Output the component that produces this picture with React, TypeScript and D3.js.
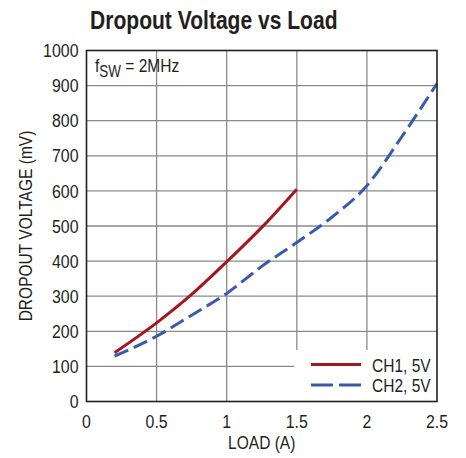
import React from "react";
import * as d3 from "d3";

const title = "Dropout Voltage vs Load";
const xLabel = "LOAD (A)";
const yLabel = "DROPOUT VOLTAGE (mV)";
const xTicks = [0, 0.5, 1, 1.5, 2, 2.5];
const xTickLabels = ["0", "0.5", "1", "1.5", "2", "2.5"];
const yTicks = [0, 100, 200, 300, 400, 500, 600, 700, 800, 900, 1000];

const ch1Load = [0.2, 0.5, 0.75, 1.0, 1.25, 1.5];
const ch1Mv = [139, 224, 305, 398, 496, 605];
const ch2Load = [0.2, 0.5, 0.75, 1.0, 1.25, 1.5, 1.75, 2.0, 2.25, 2.5];
const ch2Mv = [129, 186, 246, 308, 385, 453, 525, 615, 755, 906];

const seriesNames = ["CH1, 5V", "CH2, 5V"];

const FONT = "'Liberation Sans', Arial, sans-serif";
const RED = "#a5161f";
const BLUE = "#3a5aac";
const INK = "#231f20";
const SX = 0.84;

function T(props: {
  x: number;
  y: number;
  anchor?: string;
  size: number;
  sx?: number;
  bold?: boolean;
  rotate?: number;
  children: React.ReactNode;
}) {
  const { x, y, anchor = "start", size, sx = SX, bold, rotate = 0, children } = props;
  return (
    <text
      transform={`translate(${x},${y}) rotate(${rotate}) scale(${sx},1)`}
      textAnchor={anchor}
      fontSize={size}
      fontWeight={bold ? "bold" : "normal"}
      fill={INK}
    >
      {children}
    </text>
  );
}

export default function App() {
  const W = 466, H = 458;
  const left = 86.5, right = 437, top = 50.5, bottom = 401.5;
  const x = d3.scaleLinear().domain([0, 2.5]).range([left, right]);
  const y = d3.scaleLinear().domain([0, 1000]).range([bottom, top]);

  const line = d3
    .line<[number, number]>()
    .x((d) => x(d[0]))
    .y((d) => y(d[1]))
    .curve(d3.curveMonotoneX);

  const ch1 = ch1Load.map((v, i) => [v, ch1Mv[i]] as [number, number]);
  const ch2 = ch2Load.map((v, i) => [v, ch2Mv[i]] as [number, number]);

  return (
    <svg
      width={W}
      height={H}
      style={{ position: "absolute", left: 0, top: 0, background: "#fff" }}
      fontFamily={FONT}
    >
      <rect x={0} y={0} width={W} height={H} fill="#fff" />
      <T x={213.8} y={29} anchor="middle" size={26} sx={0.81} bold>
        {title}
      </T>
      {/* grid */}
      {xTicks.slice(1, -1).map((t) => (
        <line key={"gx" + t} x1={x(t)} x2={x(t)} y1={top} y2={bottom} stroke="#8a8a8a" strokeWidth={1.3} />
      ))}
      {yTicks.slice(1, -1).map((t) => (
        <line key={"gy" + t} x1={left} x2={right} y1={y(t)} y2={y(t)} stroke="#8a8a8a" strokeWidth={1.3} />
      ))}
      {/* curves */}
      <path d={line(ch1) || ""} fill="none" stroke={RED} strokeWidth={3} />
      <path d={line(ch2) || ""} fill="none" stroke={BLUE} strokeWidth={3} strokeDasharray="15 6" />
      {/* legend box */}
      <rect x={294} y={350} width={right - 294} height={bottom - 350} fill="#fff" />
      <line x1={311} x2={361} y1={364.5} y2={364.5} stroke={RED} strokeWidth={3} />
      <line x1={311} x2={361} y1={385} y2={385} stroke={BLUE} strokeWidth={3} strokeDasharray="22 6" />
      <T x={372} y={371.5} size={18.5}>{seriesNames[0]}</T>
      <T x={372} y={392} size={18.5}>{seriesNames[1]}</T>
      {/* frame */}
      <rect x={left} y={top} width={right - left} height={bottom - top} fill="none" stroke={INK} strokeWidth={1.6} />
      {/* annotation */}
      <T x={95} y={72} size={18.5}>
        f<tspan fontSize={16} dy={5}>SW</tspan>
        <tspan dy={-5}> = 2MHz</tspan>
      </T>
      {/* y ticks */}
      {yTicks.map((t) => (
        <T key={"yt" + t} x={78.5} y={y(t) + 6.6} anchor="end" size={18.5} sx={0.86}>
          {t}
        </T>
      ))}
      {/* x ticks */}
      {xTicks.map((t, i) => (
        <T key={"xt" + t} x={x(t)} y={427.5} anchor="middle" size={18.5} sx={0.86}>
          {xTickLabels[i]}
        </T>
      ))}
      <T x={(left + right) / 2} y={448.5} anchor="middle" size={18.5}>
        {xLabel}
      </T>
      <T x={31.5} y={226} anchor="middle" size={18.5} rotate={-90}>
        {yLabel}
      </T>
    </svg>
  );
}
